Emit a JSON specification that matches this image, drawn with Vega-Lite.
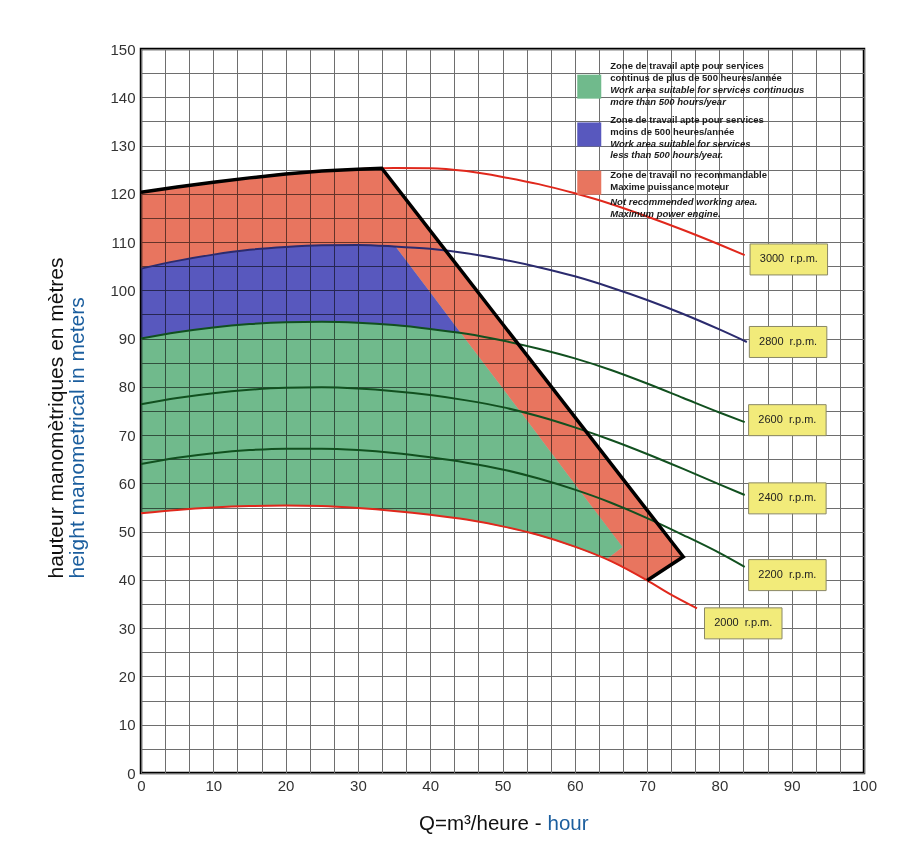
{
  "$schema": "https://vega.github.io/schema/vega-lite/v6.json",
  "width": 723,
  "height": 724,
  "autosize": {"type": "none"},
  "padding": {"left": 141, "top": 49, "right": 54, "bottom": 74},
  "background": "white",
  "config": {"view": {"stroke": "black", "strokeWidth": 2.5}, "font": "Liberation Sans"},
  "datasets": {
    "redA": [
      {"q": 0, "hi": 120.3, "lo": 104.5}, {"q": 5, "hi": 121.4, "lo": 106.1}, {"q": 10, "hi": 122.4, "lo": 107.4},
      {"q": 15, "hi": 123.3, "lo": 108.4}, {"q": 20, "hi": 124.1, "lo": 109.0}, {"q": 25, "hi": 124.7, "lo": 109.35},
      {"q": 30, "hi": 125.1, "lo": 109.4}, {"q": 33.3, "hi": 125.3, "lo": 109.2}, {"q": 35.2, "hi": 121.6, "lo": 109.1},
      {"q": 40, "hi": 112.4, "lo": 99.6}, {"q": 44.2, "hi": 104.3, "lo": 91.2}, {"q": 48, "hi": 96.9, "lo": 83.7},
      {"q": 52.9, "hi": 87.5, "lo": 74.0}, {"q": 57, "hi": 79.6, "lo": 65.85}, {"q": 62.1, "hi": 69.7, "lo": 55.7},
      {"q": 66.6, "hi": 61.0, "lo": 46.8}
    ],
    "redB": [
      {"q": 66.6, "hi": 61.0, "lo": 42.6}, {"q": 70, "hi": 54.45, "lo": 39.9}, {"q": 75, "hi": 44.8, "lo": 44.8}
    ],
    "redC": [
      {"q": 64.4, "hi": 44.26, "lo": 44.26}, {"q": 66.6, "hi": 46.8, "lo": 42.6}
    ],
    "blue": [
      {"q": 0, "hi": 104.5, "lo": 90.0}, {"q": 5, "hi": 106.1, "lo": 91.3}, {"q": 10, "hi": 107.4, "lo": 92.3},
      {"q": 15, "hi": 108.4, "lo": 93.0}, {"q": 20, "hi": 109.0, "lo": 93.4}, {"q": 25, "hi": 109.35, "lo": 93.5},
      {"q": 30, "hi": 109.4, "lo": 93.3}, {"q": 35.2, "hi": 109.1, "lo": 92.8}, {"q": 40, "hi": 99.6, "lo": 92.0},
      {"q": 44.2, "hi": 91.2, "lo": 91.2}
    ],
    "green": [
      {"q": 0, "hi": 90.0, "lo": 53.8}, {"q": 5, "hi": 91.3, "lo": 54.5}, {"q": 10, "hi": 92.3, "lo": 55.0},
      {"q": 15, "hi": 93.0, "lo": 55.3}, {"q": 20, "hi": 93.4, "lo": 55.4}, {"q": 25, "hi": 93.5, "lo": 55.3},
      {"q": 30, "hi": 93.3, "lo": 54.9}, {"q": 35.2, "hi": 92.8, "lo": 54.3}, {"q": 40, "hi": 92.0, "lo": 53.5},
      {"q": 44.2, "hi": 91.2, "lo": 52.66}, {"q": 48, "hi": 83.7, "lo": 51.66}, {"q": 52.9, "hi": 74.0, "lo": 50.06},
      {"q": 57, "hi": 65.85, "lo": 48.34}, {"q": 62.1, "hi": 55.7, "lo": 45.64}, {"q": 64.4, "hi": 51.2, "lo": 44.26},
      {"q": 66.6, "hi": 46.8, "lo": 46.8}
    ],
    "curves": [
      {"rpm": "3000", "q": 0, "h": 120.3}, {"rpm": "3000", "q": 5, "h": 121.4}, {"rpm": "3000", "q": 10, "h": 122.4},
      {"rpm": "3000", "q": 15, "h": 123.3}, {"rpm": "3000", "q": 20, "h": 124.1}, {"rpm": "3000", "q": 25, "h": 124.7},
      {"rpm": "3000", "q": 30, "h": 125.1}, {"rpm": "3000", "q": 35, "h": 125.35}, {"rpm": "3000", "q": 40, "h": 125.3},
      {"rpm": "3000", "q": 45, "h": 124.7}, {"rpm": "3000", "q": 50, "h": 123.5}, {"rpm": "3000", "q": 55, "h": 122.0},
      {"rpm": "3000", "q": 60, "h": 120.1}, {"rpm": "3000", "q": 65, "h": 117.9}, {"rpm": "3000", "q": 70, "h": 115.3},
      {"rpm": "3000", "q": 75, "h": 112.5}, {"rpm": "3000", "q": 80, "h": 109.5}, {"rpm": "3000", "q": 83.5, "h": 107.3},
      {"rpm": "2800", "q": 0, "h": 104.5}, {"rpm": "2800", "q": 5, "h": 106.1}, {"rpm": "2800", "q": 10, "h": 107.4},
      {"rpm": "2800", "q": 15, "h": 108.4}, {"rpm": "2800", "q": 20, "h": 109.0}, {"rpm": "2800", "q": 25, "h": 109.35},
      {"rpm": "2800", "q": 30, "h": 109.4}, {"rpm": "2800", "q": 35, "h": 109.1}, {"rpm": "2800", "q": 40, "h": 108.6},
      {"rpm": "2800", "q": 45, "h": 107.7}, {"rpm": "2800", "q": 50, "h": 106.4}, {"rpm": "2800", "q": 55, "h": 104.8},
      {"rpm": "2800", "q": 60, "h": 102.9}, {"rpm": "2800", "q": 65, "h": 100.6}, {"rpm": "2800", "q": 70, "h": 98.0},
      {"rpm": "2800", "q": 75, "h": 95.1}, {"rpm": "2800", "q": 80, "h": 91.9}, {"rpm": "2800", "q": 83.8, "h": 89.3},
      {"rpm": "2600", "q": 0, "h": 90.0}, {"rpm": "2600", "q": 5, "h": 91.3}, {"rpm": "2600", "q": 10, "h": 92.3},
      {"rpm": "2600", "q": 15, "h": 93.0}, {"rpm": "2600", "q": 20, "h": 93.4}, {"rpm": "2600", "q": 25, "h": 93.5},
      {"rpm": "2600", "q": 30, "h": 93.3}, {"rpm": "2600", "q": 35, "h": 92.8}, {"rpm": "2600", "q": 40, "h": 92.0},
      {"rpm": "2600", "q": 45, "h": 91.0}, {"rpm": "2600", "q": 50, "h": 89.6}, {"rpm": "2600", "q": 55, "h": 87.9},
      {"rpm": "2600", "q": 60, "h": 85.9}, {"rpm": "2600", "q": 65, "h": 83.5}, {"rpm": "2600", "q": 70, "h": 80.7},
      {"rpm": "2600", "q": 75, "h": 77.7}, {"rpm": "2600", "q": 80, "h": 74.7}, {"rpm": "2600", "q": 83.5, "h": 72.7},
      {"rpm": "2400", "q": 0, "h": 76.4}, {"rpm": "2400", "q": 5, "h": 77.7}, {"rpm": "2400", "q": 10, "h": 78.7},
      {"rpm": "2400", "q": 15, "h": 79.4}, {"rpm": "2400", "q": 20, "h": 79.8}, {"rpm": "2400", "q": 25, "h": 79.9},
      {"rpm": "2400", "q": 30, "h": 79.65}, {"rpm": "2400", "q": 35, "h": 79.1}, {"rpm": "2400", "q": 40, "h": 78.3},
      {"rpm": "2400", "q": 45, "h": 77.2}, {"rpm": "2400", "q": 50, "h": 75.8}, {"rpm": "2400", "q": 55, "h": 73.9},
      {"rpm": "2400", "q": 60, "h": 71.6}, {"rpm": "2400", "q": 65, "h": 69.0}, {"rpm": "2400", "q": 70, "h": 66.1},
      {"rpm": "2400", "q": 75, "h": 63.0}, {"rpm": "2400", "q": 80, "h": 59.8}, {"rpm": "2400", "q": 83.5, "h": 57.6},
      {"rpm": "2200", "q": 0, "h": 64.0}, {"rpm": "2200", "q": 5, "h": 65.3}, {"rpm": "2200", "q": 10, "h": 66.25},
      {"rpm": "2200", "q": 15, "h": 66.9}, {"rpm": "2200", "q": 20, "h": 67.2}, {"rpm": "2200", "q": 25, "h": 67.2},
      {"rpm": "2200", "q": 30, "h": 66.9}, {"rpm": "2200", "q": 35, "h": 66.3}, {"rpm": "2200", "q": 40, "h": 65.4},
      {"rpm": "2200", "q": 45, "h": 64.3}, {"rpm": "2200", "q": 50, "h": 62.9}, {"rpm": "2200", "q": 55, "h": 61.0},
      {"rpm": "2200", "q": 60, "h": 58.7}, {"rpm": "2200", "q": 65, "h": 56.0}, {"rpm": "2200", "q": 70, "h": 52.8},
      {"rpm": "2200", "q": 75, "h": 49.3}, {"rpm": "2200", "q": 80, "h": 45.6}, {"rpm": "2200", "q": 83.5, "h": 42.7},
      {"rpm": "2000", "q": 0, "h": 53.8}, {"rpm": "2000", "q": 5, "h": 54.5}, {"rpm": "2000", "q": 10, "h": 55.0},
      {"rpm": "2000", "q": 15, "h": 55.3}, {"rpm": "2000", "q": 20, "h": 55.4}, {"rpm": "2000", "q": 25, "h": 55.3},
      {"rpm": "2000", "q": 30, "h": 54.9}, {"rpm": "2000", "q": 35, "h": 54.3}, {"rpm": "2000", "q": 40, "h": 53.5},
      {"rpm": "2000", "q": 45, "h": 52.5}, {"rpm": "2000", "q": 50, "h": 51.1}, {"rpm": "2000", "q": 55, "h": 49.3},
      {"rpm": "2000", "q": 60, "h": 46.9}, {"rpm": "2000", "q": 65, "h": 43.9}, {"rpm": "2000", "q": 70, "h": 39.9},
      {"rpm": "2000", "q": 73, "h": 37.2}, {"rpm": "2000", "q": 76.9, "h": 34.1}
    ],
    "outline": [
      {"i": 1, "q": 0, "h": 120.3}, {"i": 2, "q": 5, "h": 121.4}, {"i": 3, "q": 10, "h": 122.4},
      {"i": 4, "q": 15, "h": 123.3}, {"i": 5, "q": 20, "h": 124.1}, {"i": 6, "q": 25, "h": 124.7},
      {"i": 7, "q": 30, "h": 125.1}, {"i": 8, "q": 33.3, "h": 125.3}, {"i": 9, "q": 75, "h": 44.8}, {"i": 10, "q": 70, "h": 39.9}
    ],
    "labels": [
      {"rpm": "3000", "q": 89.6, "h": 106.4, "label": "3000\u00a0\u00a0r.p.m."},
      {"rpm": "2800", "q": 89.5, "h": 89.3, "label": "2800\u00a0\u00a0r.p.m."},
      {"rpm": "2600", "q": 89.4, "h": 73.1, "label": "2600\u00a0\u00a0r.p.m."},
      {"rpm": "2400", "q": 89.4, "h": 56.9, "label": "2400\u00a0\u00a0r.p.m."},
      {"rpm": "2200", "q": 89.4, "h": 41.0, "label": "2200\u00a0\u00a0r.p.m."},
      {"rpm": "2000", "q": 83.3, "h": 31.0, "label": "2000\u00a0\u00a0r.p.m."}
    ],
    "swatches": [
      {"zone": "continuous", "q": 62.0, "h": 142.2},
      {"zone": "limited", "q": 62.0, "h": 132.3},
      {"zone": "notrecommended", "q": 62.0, "h": 122.3}
    ],
    "legendtext": [
      {"lang": "fr", "q": 64.9, "h": 146.4, "text": "Zone de travail apte pour services"},
      {"lang": "fr", "q": 64.9, "h": 143.9, "text": "continus de plus de 500 heures/année"},
      {"lang": "en", "q": 64.9, "h": 141.5, "text": "Work area suitable for services continuous"},
      {"lang": "en", "q": 64.9, "h": 139.0, "text": "more than 500 hours/year"},
      {"lang": "fr", "q": 64.9, "h": 135.3, "text": "Zone de travail apte pour services"},
      {"lang": "fr", "q": 64.9, "h": 132.8, "text": "moins de 500 heures/année"},
      {"lang": "en", "q": 64.9, "h": 130.4, "text": "Work area suitable for services"},
      {"lang": "en", "q": 64.9, "h": 128.1, "text": "less than 500 hours/year."},
      {"lang": "fr", "q": 64.9, "h": 123.9, "text": "Zone de travail no recommandable"},
      {"lang": "fr", "q": 64.9, "h": 121.5, "text": "Maxime puissance moteur"},
      {"lang": "en", "q": 64.9, "h": 118.3, "text": "Not recommended working area."},
      {"lang": "en", "q": 64.9, "h": 115.8, "text": "Maximum power engine."}
    ]
  },
  "layer": [
    {
      "data": {"name": "redA"},
      "mark": {"type": "area", "color": "#e8755f", "blend": "multiply"},
      "encoding": {
        "x": {"field": "q", "type": "quantitative", "scale": {"domain": [0, 100], "nice": false, "zero": false},
          "axis": {
            "values": [0, 3.3333, 6.6667, 10, 13.3333, 16.6667, 20, 23.3333, 26.6667, 30, 33.3333, 36.6667, 40, 43.3333, 46.6667, 50, 53.3333, 56.6667, 60, 63.3333, 66.6667, 70, 73.3333, 76.6667, 80, 83.3333, 86.6667, 90, 93.3333, 96.6667, 100],
            "grid": true, "gridColor": "#6e6e6e", "gridWidth": 1, "gridOpacity": 1,
            "ticks": false, "domain": false, "labelFlush": false, "labelOverlap": false,
            "labelExpr": "abs(datum.value / 10 - round(datum.value / 10)) < 0.001 ? format(datum.value, 'd') : ''",
            "labelFont": "Liberation Sans", "labelFontSize": 15, "labelColor": "#333", "labelPadding": 5,
            "title": "Q=m³/heure -", "titleFont": "Liberation Sans", "titleFontSize": 20.5, "titleFontWeight": "normal",
            "titleColor": "#111", "titleAlign": "right", "titleBaseline": "alphabetic", "titleX": 400, "titleY": 56
          }},
        "y": {"field": "hi", "type": "quantitative", "scale": {"domain": [0, 150], "nice": false, "zero": false},
          "axis": {
            "values": [0, 5, 10, 15, 20, 25, 30, 35, 40, 45, 50, 55, 60, 65, 70, 75, 80, 85, 90, 95, 100, 105, 110, 115, 120, 125, 130, 135, 140, 145, 150],
            "grid": true, "gridColor": "#6e6e6e", "gridWidth": 1, "gridOpacity": 1,
            "ticks": false, "domain": false, "labelFlush": false, "labelOverlap": false,
            "labelExpr": "datum.value % 10 == 0 ? datum.label : ''",
            "labelFont": "Liberation Sans", "labelFontSize": 15, "labelColor": "#333", "labelPadding": 6,
            "title": "hauteur manomètriques en mètres", "titleFont": "Liberation Sans", "titleFontSize": 21, "titleFontWeight": "normal",
            "titleColor": "#111", "titleAngle": -90, "titleAlign": "left", "titleBaseline": "alphabetic", "titleX": -79, "titleY": 529
          }},
        "y2": {"field": "lo"}
      }
    },
    {
      "data": {"name": "redB"},
      "mark": {"type": "area", "color": "#e8755f", "blend": "multiply"},
      "encoding": {
        "x": {"field": "q", "type": "quantitative",
          "axis": {"orient": "bottom", "grid": false, "ticks": false, "domain": false, "labels": false,
            "title": "hour", "titleFont": "Liberation Sans", "titleFontSize": 20.5, "titleFontWeight": "normal",
            "titleColor": "#1b5e9e", "titleAlign": "left", "titleBaseline": "alphabetic", "titleX": 406, "titleY": 56}},
        "y": {"field": "hi", "type": "quantitative",
          "axis": {"orient": "left", "grid": false, "ticks": false, "domain": false, "labels": false,
            "title": "height manometrical in meters", "titleFont": "Liberation Sans", "titleFontSize": 21, "titleFontWeight": "normal",
            "titleColor": "#1b5e9e", "titleAngle": -90, "titleAlign": "left", "titleBaseline": "alphabetic", "titleX": -58, "titleY": 529}},
        "y2": {"field": "lo"}
      }
    },
    {
      "data": {"name": "redC"},
      "mark": {"type": "area", "color": "#e8755f", "blend": "multiply"},
      "encoding": {
        "x": {"field": "q", "type": "quantitative", "axis": null},
        "y": {"field": "hi", "type": "quantitative", "axis": null},
        "y2": {"field": "lo"}
      }
    },
    {
      "data": {"name": "blue"},
      "mark": {"type": "area", "color": "#5858be", "blend": "multiply"},
      "encoding": {
        "x": {"field": "q", "type": "quantitative", "axis": null},
        "y": {"field": "hi", "type": "quantitative", "axis": null},
        "y2": {"field": "lo"}
      }
    },
    {
      "data": {"name": "green"},
      "mark": {"type": "area", "color": "#70ba8c", "blend": "multiply"},
      "encoding": {
        "x": {"field": "q", "type": "quantitative", "axis": null},
        "y": {"field": "hi", "type": "quantitative", "axis": null},
        "y2": {"field": "lo"}
      }
    },
    {
      "data": {"name": "curves"},
      "mark": {"type": "line", "strokeWidth": 2, "interpolate": "monotone"},
      "encoding": {
        "x": {"field": "q", "type": "quantitative", "axis": null},
        "y": {"field": "h", "type": "quantitative", "axis": null},
        "color": {"field": "rpm", "type": "nominal", "legend": null,
          "scale": {"domain": ["3000", "2800", "2600", "2400", "2200", "2000"],
            "range": ["#e0281c", "#2b2b6e", "#11501f", "#11501f", "#11501f", "#e0281c"]}}
      }
    },
    {
      "data": {"name": "outline"},
      "mark": {"type": "line", "color": "black", "strokeWidth": 3.5, "strokeJoin": "miter", "interpolate": "linear"},
      "encoding": {
        "x": {"field": "q", "type": "quantitative", "axis": null},
        "y": {"field": "h", "type": "quantitative", "axis": null},
        "order": {"field": "i", "type": "quantitative"}
      }
    },
    {
      "data": {"name": "labels"},
      "mark": {"type": "point", "shape": "M-2.5,-1H2.5V1H-2.5Z", "size": 961, "filled": true, "fill": "#f2eb7a", "stroke": "#8a8866", "strokeWidth": 1, "opacity": 1},
      "encoding": {
        "x": {"field": "q", "type": "quantitative", "axis": null},
        "y": {"field": "h", "type": "quantitative", "axis": null}
      }
    },
    {
      "data": {"name": "labels"},
      "mark": {"type": "text", "font": "Liberation Sans", "fontSize": 11, "color": "#222", "align": "center", "baseline": "middle"},
      "encoding": {
        "x": {"field": "q", "type": "quantitative", "axis": null},
        "y": {"field": "h", "type": "quantitative", "axis": null},
        "text": {"field": "label"}
      }
    },
    {
      "data": {"name": "swatches"},
      "mark": {"type": "point", "shape": "square", "size": 576, "filled": true, "opacity": 1},
      "encoding": {
        "x": {"field": "q", "type": "quantitative", "axis": null},
        "y": {"field": "h", "type": "quantitative", "axis": null},
        "fill": {"field": "zone", "type": "nominal", "legend": null,
          "scale": {"domain": ["continuous", "limited", "notrecommended"], "range": ["#70ba8c", "#5858be", "#e8755f"]}}
      }
    },
    {
      "data": {"name": "legendtext"},
      "transform": [{"filter": "datum.lang == 'fr'"}],
      "mark": {"type": "text", "font": "Liberation Sans", "fontSize": 9.5, "fontWeight": "bold", "color": "#1a1a1a", "align": "left", "baseline": "middle"},
      "encoding": {
        "x": {"field": "q", "type": "quantitative", "axis": null},
        "y": {"field": "h", "type": "quantitative", "axis": null},
        "text": {"field": "text"}
      }
    },
    {
      "data": {"name": "legendtext"},
      "transform": [{"filter": "datum.lang == 'en'"}],
      "mark": {"type": "text", "font": "Liberation Sans", "fontSize": 9.5, "fontWeight": "bold", "fontStyle": "italic", "color": "#1a1a1a", "align": "left", "baseline": "middle"},
      "encoding": {
        "x": {"field": "q", "type": "quantitative", "axis": null},
        "y": {"field": "h", "type": "quantitative", "axis": null},
        "text": {"field": "text"}
      }
    }
  ],
  "resolve": {"axis": {"x": "independent", "y": "independent"}, "scale": {"color": "independent", "fill": "independent"}}
}
